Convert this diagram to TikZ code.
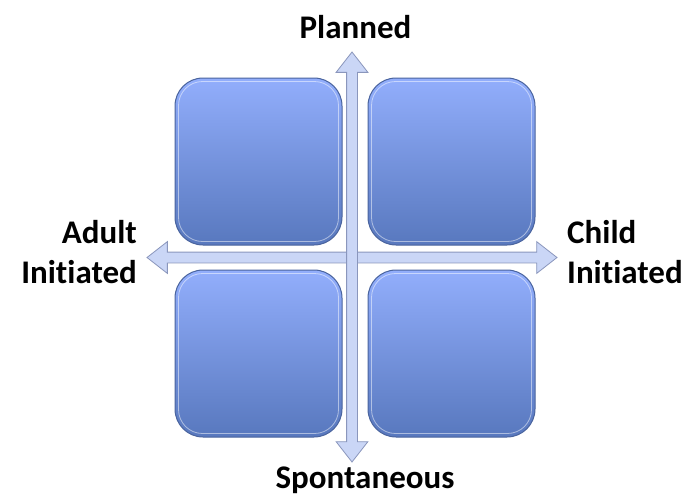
\documentclass[tikz,border=0pt]{standalone}
\usepackage{fontspec}
\setmainfont{Carlito}[Ligatures=NoCommon]
\usetikzlibrary{shapes.arrows}
\definecolor{boxtop}{RGB}{146,174,252}
\definecolor{boxbottom}{RGB}{88,120,190}
\definecolor{boxedge}{RGB}{74,100,158}
\definecolor{axisfill}{RGB}{202,214,246}
\definecolor{axisedge}{RGB}{138,150,188}

\begin{document}
\begin{tikzpicture}[x=1pt, y=-1pt]
\tikzstyle{quadrant}=
[
    %Rounded squares with a top-to-bottom gradient
    rectangle, rounded corners=28pt,
    minimum width=167pt, minimum height=167pt,
    top color=boxtop, bottom color=boxbottom,
    draw=boxedge, line width=1pt
    ]
\tikzstyle{axis}=
[
    %Two-headed block arrows for the axes
    double arrow, draw=axisedge, fill=axisfill, line width=0.8pt,
    inner sep=5pt, minimum height=410pt,
    double arrow head extend=10.5pt, double arrow tip angle=76
    ]
\tikzstyle{label}=
[
    font=\fontsize{33}{40}\selectfont\bfseries, inner sep=0pt
    ]
\useasboundingbox (0,0) rectangle (693,499);

%Axes
\node[axis] (haxis) at (352,257.5) {};
\node[axis, rotate=90] (vaxis) at (352,257) {};

%Quadrants
\node[quadrant] (tl) at (258.5,161.5) {};
\node[quadrant] (tr) at (451.5,161.5) {};
\node[quadrant] (bl) at (258.5,353.5) {};
\node[quadrant] (br) at (451.5,353.5) {};
\foreach \q in {tl,tr,bl,br}
    \draw[white, opacity=0.5, line width=0.8pt, rounded corners=24pt]
        ([xshift=4pt,yshift=-4pt]\q.north west) rectangle ([xshift=-4pt,yshift=4pt]\q.south east);

%Axis labels
\node[label, anchor=base] (planned) at (355.5,38) {Planned};
\node[label, anchor=base] (spontaneous) at (365,488) {Spontaneous};
\node[label, anchor=north east, align=right] (adult) at (137,220) {Adult\\Initiated};
\node[label, anchor=north west, align=left] (child) at (567,220) {Child\\Initiated};
\end{tikzpicture}
\end{document}
